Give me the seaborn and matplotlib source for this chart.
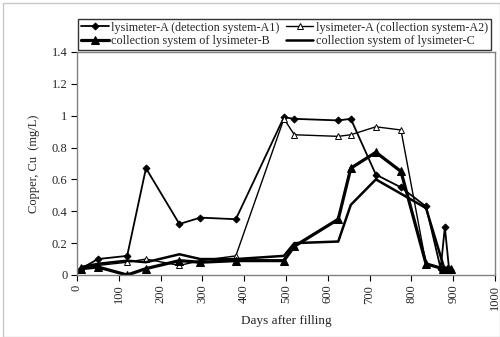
import matplotlib
matplotlib.use("Agg")
import matplotlib.pyplot as plt
import seaborn as sns
import pandas as pd
from matplotlib.patches import Rectangle

sns.set_style("white")
plt.rcParams['font.family'] = ['Liberation Serif', 'DejaVu Serif']

# ---- data ----
a1_days = [10, 50, 120, 165, 245, 295, 380, 495, 520, 625, 655, 715, 775, 835, 870, 880, 890]
a1_vals = [0.04, 0.10, 0.12, 0.67, 0.32, 0.36, 0.35, 0.99, 0.98, 0.97, 0.98, 0.63, 0.55, 0.43, 0.04, 0.30, 0.04]

a2_days = [10, 50, 120, 165, 245, 295, 380, 495, 520, 625, 655, 715, 775, 835, 880, 890]
a2_vals = [0.05, 0.06, 0.08, 0.10, 0.06, 0.09, 0.12, 0.98, 0.88, 0.87, 0.88, 0.93, 0.91, 0.07, 0.04, 0.04]

b_days = [10, 50, 120, 165, 245, 295, 380, 495, 520, 625, 655, 715, 775, 835, 875, 885, 895]
b_vals = [0.04, 0.05, 0.00, 0.04, 0.09, 0.08, 0.09, 0.09, 0.18, 0.35, 0.67, 0.77, 0.65, 0.07, 0.04, 0.04, 0.04]

c_days = [10, 50, 120, 165, 245, 295, 380, 495, 520, 625, 655, 715, 775, 835, 880, 900]
c_vals = [0.05, 0.07, 0.09, 0.08, 0.13, 0.10, 0.10, 0.12, 0.20, 0.21, 0.44, 0.60, 0.51, 0.42, 0.03, 0.03]

labels = ["lysimeter-A (detection system-A1)", "lysimeter-A (collection system-A2)",
          "collection system of lysimeter-B", "collection system of lysimeter-C"]
x_ticks = list(range(0, 1001, 100))
y_ticks = [0, 0.2, 0.4, 0.6, 0.8, 1.0, 1.2, 1.4]
y_tick_labels = ["0", "0.2", "0.4", "0.6", "0.8", "1", "1.2", "1.4"]

fig = plt.figure(figsize=(5.0, 3.37), dpi=100)
ax = fig.add_axes([0.154, 0.184, 0.836, 0.662])

sns.lineplot(x=a1_days, y=a1_vals, ax=ax, color='black', lw=1.3, marker='D', markersize=3.5,
             markerfacecolor='black', markeredgecolor='black', sort=False, estimator=None, label=labels[0])
sns.lineplot(x=a2_days, y=a2_vals, ax=ax, color='black', lw=1.0, marker='^', markersize=5,
             markerfacecolor='white', markeredgecolor='black', markeredgewidth=0.7,
             sort=False, estimator=None, label=labels[1])
sns.lineplot(x=b_days, y=b_vals, ax=ax, color='black', lw=2.3, marker='^', markersize=5.5,
             markerfacecolor='black', markeredgecolor='black', sort=False, estimator=None, label=labels[2])
sns.lineplot(x=c_days, y=c_vals, ax=ax, color='black', lw=1.8, sort=False, estimator=None, label=labels[3])

ax.set_xlim(0, 1000)
ax.set_ylim(0, 1.4)
ax.set_xticks(x_ticks)
ax.set_xticklabels([str(t) for t in x_ticks], rotation=90, fontsize=9)
ax.set_yticks(y_ticks)
ax.set_yticklabels(y_tick_labels, fontsize=9)
ax.tick_params(axis='both', direction='out', length=4, width=0.8, color='black', bottom=True, left=True, pad=3)
for s in ax.spines.values():
    s.set_color('#808080')
    s.set_linewidth(1.0)
ax.set_xlabel("Days after filling", fontsize=9.5, labelpad=4)
ax.set_ylabel("Copper, Cu  (mg/L)", fontsize=9, labelpad=8)

ax.legend_.remove()
handles, labs = ax.get_legend_handles_labels()
order = [0, 2, 1, 3]  # row-major layout in two columns
handles = [handles[i] for i in order]
labs = [labs[i] for i in order]
leg = fig.legend(handles, labs, loc='lower left', ncol=2, mode='expand',
                 bbox_to_anchor=(0.156, 0.852, 0.826, 0.113), bbox_transform=fig.transFigure,
                 fontsize=8.7, frameon=True, fancybox=False, borderpad=0.25, labelspacing=0.1,
                 handlelength=2.3, handletextpad=0.2, columnspacing=0.5, borderaxespad=0)
leg.get_frame().set_edgecolor('black')
leg.get_frame().set_linewidth(1.0)

fig.patches.append(Rectangle((0.006, 0.0), 0.994, 0.99, transform=fig.transFigure,
                             fill=False, edgecolor='#c8c8c8', lw=1.0))

fig.savefig("out.png", dpi=100)
